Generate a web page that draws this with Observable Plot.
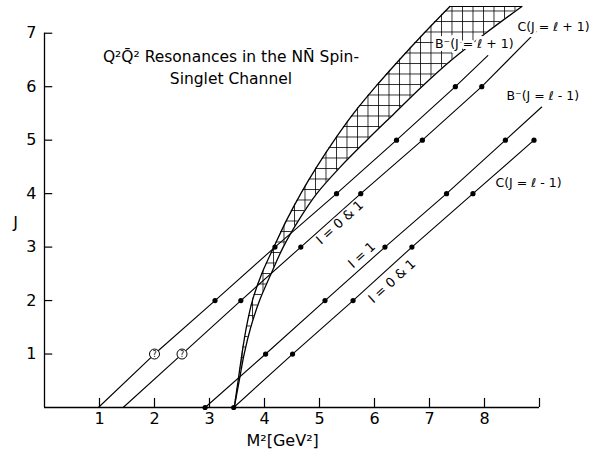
<!DOCTYPE html>
<html><head><meta charset="utf-8">
<script src="https://cdn.jsdelivr.net/npm/d3@7"></script>
<script src="https://cdn.jsdelivr.net/npm/@observablehq/plot@0.6"></script>
<style>body{margin:0;background:#fff}</style>
</head><body><div id="chart"></div>
<script>
// tick values
const xTicks = [1, 2, 3, 4, 5, 6, 7, 8];
const xTickMarks = [1, 2, 3, 4, 5, 6, 7, 8, 9];
const yTicks = [1, 2, 3, 4, 5, 6, 7];

// Regge trajectories: J vs M² (GeV²)
const bPlusJ = [0, 1, 2, 3, 4, 5, 6, 6.58];
const bPlusM = [0.98, 2.0, 3.1, 4.19, 5.31, 6.40, 7.47, 8.06];
const cPlusJ = [0, 1, 2, 3, 4, 5, 6, 7.03];
const cPlusM = [1.43, 2.5, 3.57, 4.66, 5.75, 6.87, 7.95, 8.94];
const bMinusJ = [0, 1, 2, 3, 4, 5, 5.62];
const bMinusM = [2.92, 4.02, 5.1, 6.19, 7.31, 8.38, 9.04];
const cMinusJ = [0, 1, 2, 3, 4, 5];
const cMinusM = [3.44, 4.51, 5.61, 6.68, 7.79, 8.9];

// resonance states (filled dots) and uncertain states (open circles)
const dotJ = [2, 3, 4, 5, 6, 2, 3, 4, 5, 6, 0, 1, 2, 3, 4, 5, 0, 1, 2, 3, 4, 5];
const dotM = [3.1, 4.19, 5.31, 6.40, 7.47, 3.57, 4.66, 5.75, 6.87, 7.95,
              2.92, 4.02, 5.1, 6.19, 7.31, 8.38, 3.44, 4.51, 5.61, 6.68, 7.79, 8.9];
const openJ = [1, 1];
const openM = [2.0, 2.5];

// hatched band boundaries
const bandJ = [0, 0.5, 1, 1.5, 2, 2.5, 3, 3.5, 4, 4.5, 5, 5.5, 6, 6.5, 7, 7.5];
const bandLeftM = [3.45, 3.52, 3.59, 3.67, 3.78, 3.95, 4.17, 4.4, 4.66, 4.95, 5.27, 5.62, 6.02, 6.45, 6.9, 7.37];
const bandRightM = [3.45, 3.54, 3.63, 3.75, 3.91, 4.12, 4.34, 4.62, 4.95, 5.38, 5.86, 6.36, 6.86, 7.4, 8.02, 8.68];

// labels
const title = "Q²Q\u0304² Resonances in the NN\u0304 Spin-\nSinglet Channel";
const trajLabels = ["C(J = ℓ + 1)", "B⁻(J = ℓ + 1)", "B⁻(J = ℓ - 1)", "C(J = ℓ - 1)"];
const trajLabelM = [8.6, 7.1, 8.4, 8.2];
const trajLabelJ = [7.12, 6.8, 5.82, 4.2];
const isoLabels = ["I = 0 & 1", "I = 1", "I = 0 & 1"];
const isoLabelM = [5.37, 5.77, 6.32];
const isoLabelJ = [3.46, 2.85, 2.36];

const zip = (js, ms) => js.map((j, i) => ({J: j, M: ms[i]}));
const band = bandJ.map((j, i) => ({J: j, L: bandLeftM[i], R: bandRightM[i]}));
const dots = zip(dotJ, dotM);
const opens = zip(openJ, openM);
const trajLab = trajLabels.map((t, i) => ({t, M: trajLabelM[i], J: trajLabelJ[i]}));
const isoLab = isoLabels.map((t, i) => ({t, M: isoLabelM[i], J: isoLabelJ[i]}));

const font = "'DejaVu Sans', sans-serif";
const tickLenJ = 0.17, tickLenM = 0.15;

const plot = Plot.plot({
  width: 589, height: 451,
  marginLeft: 44, marginRight: 50, marginTop: 6, marginBottom: 44,
  x: {domain: [0, 9]},
  y: {domain: [0, 7.5]},
  style: {fontFamily: font, background: "white", color: "black"},
  marks: [
    Plot.areaX(band, {y: "J", x1: "L", x2: "R", fill: "url(#xhatch)", curve: "catmull-rom"}),
    Plot.line(band, {x: "L", y: "J", curve: "catmull-rom", strokeWidth: 1.3}),
    Plot.line(band, {x: "R", y: "J", curve: "catmull-rom", strokeWidth: 1.3}),
    Plot.ruleY([bandJ[bandJ.length - 1]], {x1: bandLeftM[bandLeftM.length - 1], x2: bandRightM[bandRightM.length - 1], strokeWidth: 1.1}),
    // trajectories
    Plot.line(zip(bPlusJ, bPlusM), {x: "M", y: "J", strokeWidth: 1.1}),
    Plot.line(zip(cPlusJ, cPlusM), {x: "M", y: "J", strokeWidth: 1.1}),
    Plot.line(zip(bMinusJ, bMinusM), {x: "M", y: "J", strokeWidth: 1.1}),
    Plot.line(zip(cMinusJ, cMinusM), {x: "M", y: "J", strokeWidth: 1.1}),
    // axes
    Plot.ruleY([0], {x1: 0, x2: 9, strokeWidth: 1.3}),
    Plot.ruleX([0], {y1: 0, y2: 7, strokeWidth: 1.3}),
    Plot.ruleX(xTickMarks, {y1: 0, y2: tickLenJ, strokeWidth: 1.2}),
    Plot.ruleY(yTicks, {x1: 0, x2: tickLenM, strokeWidth: 1.2}),
    Plot.axisX({ticks: xTicks, tickSize: 0, tickPadding: 5, fontSize: 16, label: null}),
    Plot.axisY({ticks: yTicks, tickSize: 0, tickPadding: 8, fontSize: 16, label: null}),
    Plot.text(["M²[GeV²]"], {x: 4.33, y: 0, dy: 33, fontSize: 16}),
    Plot.text(["J"], {x: 0, y: 3.46, dx: -29, fontSize: 16}),
    // points
    Plot.dot(dots, {x: "M", y: "J", r: 2.6, fill: "black"}),
    Plot.dot(opens, {x: "M", y: "J", r: 5, fill: "white", stroke: "black", strokeWidth: 1}),
    Plot.text(opens, {x: "M", y: "J", text: () => "?", fontSize: 8}),
    // labels
    Plot.text([title], {x: 3.39, y: 6.38, fontSize: 15.5, lineHeight: 1.42}),
    Plot.text(trajLab, {x: "M", y: "J", text: "t", textAnchor: "start", fontSize: 12.5, stroke: "white", strokeWidth: 6, fill: "black"}),
    Plot.text(isoLab, {x: "M", y: "J", text: "t", rotate: -42, fontSize: 13, stroke: "white", strokeWidth: 3, fill: "black"})
  ]
});

const ns = "http://www.w3.org/2000/svg";
const defs = document.createElementNS(ns, "defs");
defs.innerHTML = '<pattern id="xhatch" patternUnits="userSpaceOnUse" width="10.5" height="10.5"><path d="M0,0.5H10.5M0.5,0V10.5" stroke="#000" stroke-width="0.8" fill="none"/></pattern>';
plot.insertBefore(defs, plot.firstChild);
document.getElementById("chart").appendChild(plot);
</script>
</body></html>
